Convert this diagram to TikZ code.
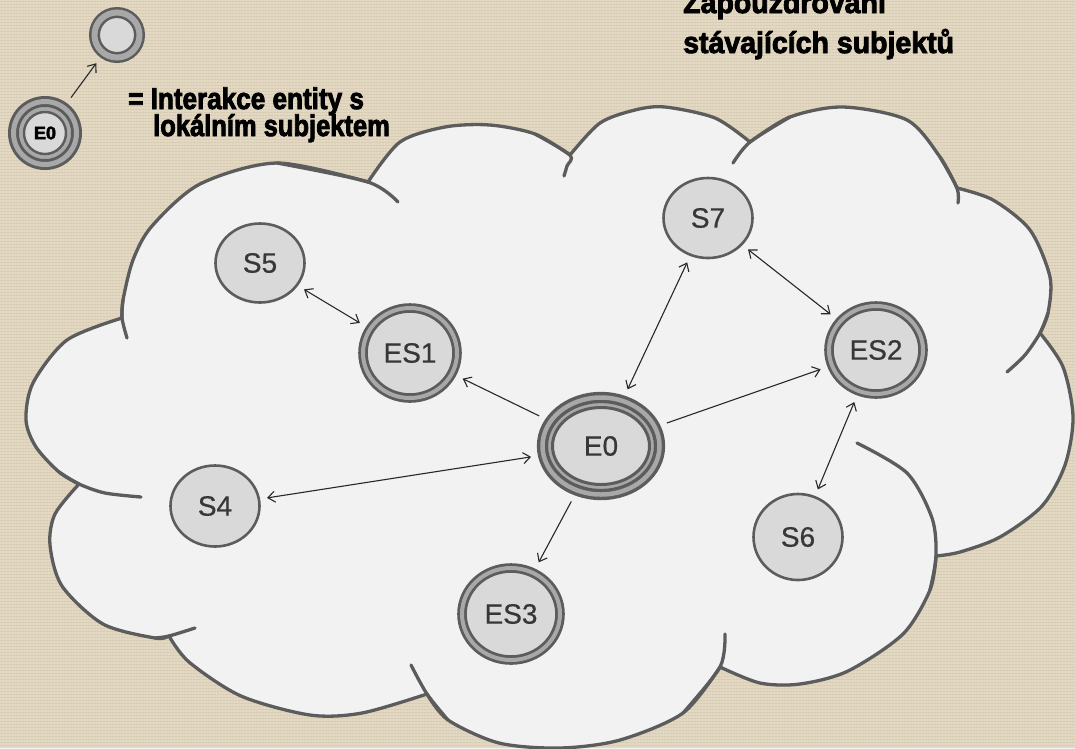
\documentclass[tikz,border=0pt]{standalone}
\usepackage{fontspec}
\setmainfont{Liberation Sans}
\newfontfamily\headfont{Liberation Sans}[BoldFeatures={FakeBold=3}]
\newfontfamily\labelfont{Liberation Sans}[FakeBold=0.6]
\usetikzlibrary{shapes.geometric,arrows.meta}

\definecolor{linen}{RGB}{225,214,191}
\definecolor{cloudfill}{RGB}{242,242,242}
\definecolor{rim}{RGB}{92,92,92}
\definecolor{band}{RGB}{168,168,168}
\definecolor{core}{RGB}{217,217,217}
\definecolor{ink}{RGB}{55,55,55}
\definecolor{wire}{RGB}{40,40,40}

\tikzset{
  lbl/.style={font=\labelfont\fontsize{28}{28}\selectfont, text=ink},
  subj/.style={ellipse, draw=rim, line width=2.6pt, fill=core, inner sep=0pt,
    outer sep=1.3pt, minimum width=89pt, lbl},
  encsubj/.style={ellipse, draw=rim, line width=2.8pt, double=band,
    double distance=4pt, fill=core, inner sep=0pt, outer sep=5pt, lbl},
  innerring/.style n args={5}{path picture={
    \fill[band] (path picture bounding box.center) ellipse [x radius=#1, y radius=#2];
    \draw[rim, line width=#5, fill=core] (path picture bounding box.center)
      ellipse [x radius=#3, y radius=#4];}},
  entity/.style={encsubj, line width=3.4pt, double distance=4.5pt, outer sep=5.6pt},
  cloudline/.style={draw=rim, line width=3.3pt, line cap=round, line join=round},
  link/.style={draw=wire, line width=1.1pt, shorten <=7pt, shorten >=7pt},
  heading/.style={font=\headfont\bfseries\fontsize{30}{30}\selectfont, text=black,
    inner sep=0pt, anchor=base west},
}

\begin{document}
\begin{tikzpicture}[x=1pt, y=-1pt, >={Straight Barb[length=7pt,width=11pt]}]
\useasboundingbox (0,0) rectangle (1075,748);
\clip (0,0) rectangle (1075,748);

% linen backdrop
\fill[linen] (0,0) rectangle (1075,748);
\foreach \i in {0,3,...,1075} \draw[white, opacity=0.10, line width=0.9pt] (\i,0) -- (\i,748);
\foreach \j in {1,4,...,748} \draw[black!60!brown, opacity=0.06, line width=0.9pt] (0,\j) -- (1075,\j);

% cloud body
\path[fill=cloudfill, cloudline]
  plot[smooth] coordinates {(122,318) (123,300) (133,260) (152,226) (200,184) (277,163) (368,182)}
  -- plot[smooth] coordinates {(368,182) (400,142) (445,127) (490,125) (535,134) (570,155)}
  -- plot[smooth] coordinates {(570,155) (600,123) (635,110) (665,107) (715,118) (750,142)}
  -- plot[smooth] coordinates {(750,142) (790,117) (843,107) (907,120) (940,157) (957,188)}
  -- plot[smooth] coordinates {(957,188) (993,200) (1030,230) (1050,277) (1048,313) (1040,333)}
  -- plot[smooth] coordinates {(1040,333) (1063,367) (1073,417) (1065,465) (1042,506) (1000,537) (960,552) (936,556)}
  -- plot[smooth] coordinates {(936,556) (930,590) (903,634) (848,671) (800,684) (760,683) (720,667)}
  -- plot[smooth] coordinates {(720,667) (683,713) (620,740) (560,748) (499,743) (448,720) (427,694)}
  -- plot[smooth] coordinates {(427,694) (362,713) (310,715) (241,696) (189,662) (169,636)}
  -- plot[smooth] coordinates {(169,636) (155,638) (103,624) (62,586) (50,545) (55,514) (79,484)}
  -- plot[smooth] coordinates {(79,484) (59,472) (36,447) (26,420) (33,383) (67,340) (122,318)}
  -- cycle;

% inner arcs of the cloud
\draw[cloudline] plot[smooth] coordinates {(123,300) (122,318) (127,338)};
\draw[cloudline] plot[smooth] coordinates {(277,163) (368,182) (398,202)};
\draw[cloudline] plot[smooth] coordinates {(535,134) (570,155) (567,166) (564,176)};
\draw[cloudline] plot[smooth] coordinates {(790,117) (750,142) (733,163)};
\draw[cloudline] plot[smooth] coordinates {(940,157) (957,188) (958,203)};
\draw[cloudline] plot[smooth] coordinates {(1048,313) (1040,333) (1025,355) (1007,372)};
\draw[cloudline] plot[smooth] coordinates {(930,590) (936,556) (932,518) (907,473) (857,443)};
\draw[cloudline] plot[smooth] coordinates {(683,713) (720,667) (725,634)};
\draw[cloudline] plot[smooth] coordinates {(448,720) (427,694) (411,665)};
\draw[cloudline] plot[smooth] coordinates {(155,638) (169,636) (195,628)};
\draw[cloudline] plot[smooth] coordinates {(59,472) (79,484) (105,493) (141,497)};

% subjects
\node[subj, minimum height=79pt] (S5) at (260,263) {S5};
\node[subj, minimum height=80pt] (S7) at (708,218) {S7};
\node[subj, minimum height=81pt] (S4) at (215,506) {S4};
\node[subj, minimum height=86pt] (S6) at (798,537) {S6};
\node[encsubj, minimum width=94pt, minimum height=90pt] (ES1) at (410,353) {ES1};
\node[encsubj, minimum width=94pt, minimum height=88pt] (ES2) at (876,350) {ES2};
\node[encsubj, minimum width=98pt, minimum height=92pt] (ES3) at (511,614) {ES3};
\node[entity, minimum width=117pt, minimum height=97pt,
  innerring={53pt}{43pt}{48.5pt}{38.5pt}{3pt}] (E0) at (601,446) {E0};

% interactions
\draw[link, <->] (S5) -- (ES1);
\draw[link, ->] (E0) -- (ES1);
\draw[link, <->] (E0) -- (S7);
\draw[link, ->] (E0) -- (ES2);
\draw[link, <->] (S7) -- (ES2);
\draw[link, <->] (ES2) -- (S6);
\draw[link, <->] (E0) -- (S4);
\draw[link, ->] (E0) -- (ES3);

% legend
\node[encsubj, line width=2.5pt, double distance=6pt, outer sep=5.5pt,
  minimum width=45pt, minimum height=45pt] (lgS) at (117,35) {};
\node[entity, line width=3pt, double distance=5pt, outer sep=5.5pt,
  minimum width=63pt, minimum height=63pt,
  innerring={26pt}{26pt}{21pt}{21pt}{2.4pt},
  font=\headfont\bfseries\fontsize{18}{18}\selectfont, text=black] (lgE0) at (45,133) {E0};
\draw[link, ->] (lgE0) -- (lgS);
\node[heading, font=\headfont\bfseries\fontsize{30}{30}\selectfont] (legend) at (128,109)
  {\vtop{\baselineskip=27pt\lineskiplimit=-60pt\lineskip=0pt
    \hbox{\scalebox{0.87}[1]{= Interakce entity s}}
    \hbox{\hspace*{25pt}\scalebox{0.85}[1]{lokálním subjektem}}}};

% heading
\node[heading] (title) at (683,13)
  {\vtop{\baselineskip=40pt\lineskiplimit=-60pt\lineskip=0pt
    \hbox{\scalebox{0.95}[1]{Zapouzdrování}}
    \hbox{\scalebox{0.95}[1]{stávajících subjektů}}}};
\end{tikzpicture}
\end{document}
